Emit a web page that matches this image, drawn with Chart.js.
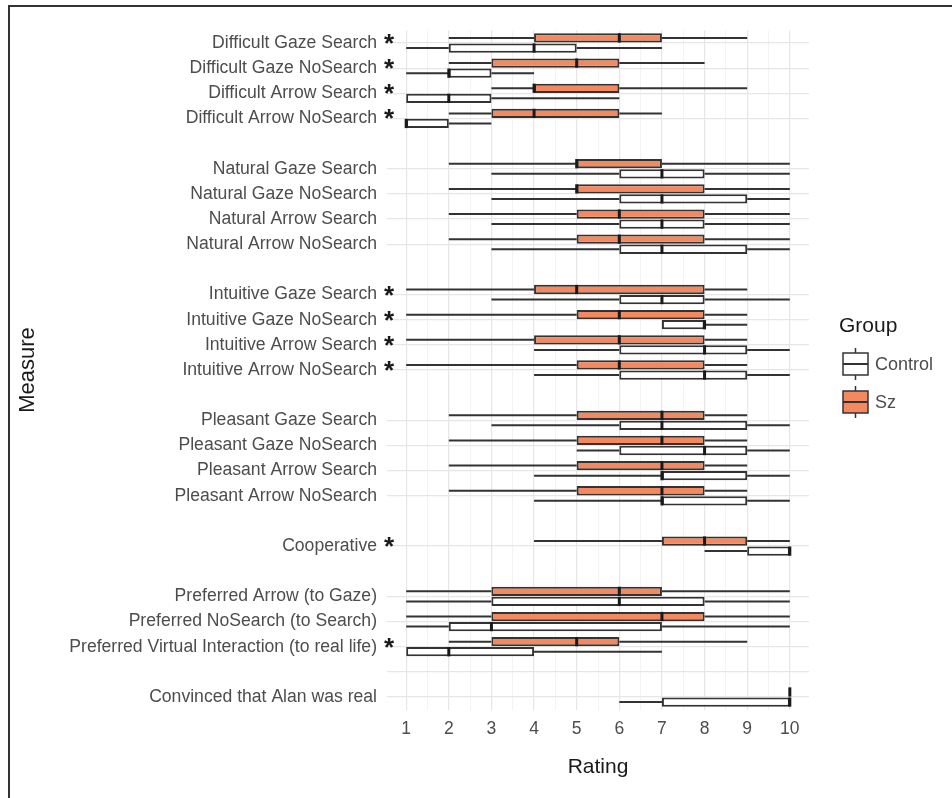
<!DOCTYPE html>
<html>
<head>
<meta charset="utf-8">
<script src="https://cdn.jsdelivr.net/npm/chart.js@4.4.1/dist/chart.umd.min.js"></script>
<style>
  html, body { margin: 0; padding: 0; background: #fff; }
  #wrap { position: relative; width: 952px; height: 798px; }
</style>
</head>
<body>
<div id="wrap"><canvas id="boxChart"></canvas></div>
<script>
// Measures, top to bottom. '' = spacer row without grid line, ' ' = blank row with grid line
const measures = [
    'Difficult Gaze Search', 'Difficult Gaze NoSearch', 'Difficult Arrow Search', 'Difficult Arrow NoSearch',
    '',
    'Natural Gaze Search', 'Natural Gaze NoSearch', 'Natural Arrow Search', 'Natural Arrow NoSearch',
    '',
    'Intuitive Gaze Search', 'Intuitive Gaze NoSearch', 'Intuitive Arrow Search', 'Intuitive Arrow NoSearch',
    '',
    'Pleasant Gaze Search', 'Pleasant Gaze NoSearch', 'Pleasant Arrow Search', 'Pleasant Arrow NoSearch',
    '',
    'Cooperative',
    '',
    'Preferred Arrow (to Gaze)', 'Preferred NoSearch (to Search)', 'Preferred Virtual Interaction (to real life)',
    ' ',
    'Convinced that Alan was real'
];

// Measures with a significant group difference
const starred = [
    'Difficult Gaze Search', 'Difficult Gaze NoSearch', 'Difficult Arrow Search', 'Difficult Arrow NoSearch',
    'Intuitive Gaze Search', 'Intuitive Gaze NoSearch', 'Intuitive Arrow Search', 'Intuitive Arrow NoSearch',
    'Cooperative', 'Preferred Virtual Interaction (to real life)'
];

// [min, q1, median, q3, max] per measure, null for spacer rows
const szStats = [
    [2, 4, 6, 7, 9], [2, 3, 5, 6, 8], [3, 4, 4, 6, 9], [2, 3, 4, 6, 7],
    null,
    [2, 5, 5, 7, 10], [2, 5, 5, 8, 10], [2, 5, 6, 8, 10], [2, 5, 6, 8, 10],
    null,
    [1, 4, 5, 8, 9], [1, 5, 6, 8, 9], [1, 4, 6, 8, 9], [1, 5, 6, 8, 9],
    null,
    [2, 5, 7, 8, 9], [2, 5, 7, 8, 9], [2, 5, 7, 8, 9], [2, 5, 7, 8, 9],
    null,
    [4, 7, 8, 9, 10],
    null,
    [1, 3, 6, 7, 10], [1, 3, 7, 8, 10], [2, 3, 5, 6, 9],
    null,
    [10, 10, 10, 10, 10]
];

const controlStats = [
    [1, 2, 4, 5, 7], [1, 2, 2, 3, 4], [1, 1, 2, 3, 6], [1, 1, 1, 2, 3],
    null,
    [3, 6, 7, 8, 10], [3, 6, 7, 9, 10], [3, 6, 7, 8, 10], [3, 6, 7, 9, 10],
    null,
    [3, 6, 7, 8, 10], [7, 7, 8, 8, 9], [4, 6, 8, 9, 10], [4, 6, 8, 9, 10],
    null,
    [3, 6, 7, 9, 10], [5, 6, 8, 9, 10], [4, 7, 7, 9, 10], [4, 7, 7, 9, 10],
    null,
    [8, 9, 10, 10, 10],
    null,
    [1, 3, 6, 8, 10], [1, 2, 3, 7, 10], [1, 1, 2, 4, 7],
    null,
    [6, 7, 10, 10, 10]
];

const ratingTicks = [1, 2, 3, 4, 5, 6, 7, 8, 9, 10];

const szFill = '#F4895F';
const controlFill = '#FFFFFF';
const lineColor = '#333333';
const textColor = '#4d4d4d';
const fontFamily = "'Liberation Sans', Arial, sans-serif";

const groups = [
    { label: 'Sz', stats: szStats, fill: szFill },
    { label: 'Control', stats: controlStats, fill: controlFill }
];

// Whiskers behind the boxes, medians on top, plus asterisks, legend and frame
const boxplotExtras = {
    id: 'boxplotExtras',
    beforeDatasetsDraw(chart) {
        const { ctx, scales: { x } } = chart;
        ctx.save();
        ctx.strokeStyle = lineColor;
        ctx.lineWidth = 2;
        groups.forEach((g, di) => {
            chart.getDatasetMeta(di).data.forEach((bar, i) => {
                const s = g.stats[i];
                if (!s) return;
                ctx.beginPath();
                ctx.moveTo(x.getPixelForValue(s[0]), bar.y);
                ctx.lineTo(x.getPixelForValue(s[1]), bar.y);
                ctx.moveTo(x.getPixelForValue(s[3]), bar.y);
                ctx.lineTo(x.getPixelForValue(s[4]), bar.y);
                ctx.stroke();
            });
        });
        ctx.restore();
    },
    afterDatasetsDraw(chart) {
        const { ctx, scales: { x } } = chart;
        ctx.save();
        ctx.strokeStyle = '#1a1a1a';
        ctx.lineWidth = 3;
        groups.forEach((g, di) => {
            chart.getDatasetMeta(di).data.forEach((bar, i) => {
                const s = g.stats[i];
                if (!s) return;
                const px = x.getPixelForValue(s[2]);
                ctx.beginPath();
                ctx.moveTo(px, bar.y - bar.height / 2);
                ctx.lineTo(px, bar.y + bar.height / 2);
                ctx.stroke();
            });
        });
        ctx.restore();
    },
    afterDraw(chart) {
        const { ctx, scales: { x, y } } = chart;
        ctx.save();

        // significance asterisks
        ctx.fillStyle = '#1a1a1a';
        ctx.font = 'bold 26px ' + fontFamily;
        ctx.textAlign = 'center';
        ctx.textBaseline = 'alphabetic';
        measures.forEach((m, i) => {
            if (!starred.includes(m)) return;
            ctx.fillText('*', x.getPixelForValue(0.6), y.getPixelForValue(i) + 9);
        });

        // legend
        ctx.fillStyle = '#1a1a1a';
        ctx.font = '21px ' + fontFamily;
        ctx.textAlign = 'left';
        ctx.textBaseline = 'middle';
        ctx.fillText('Group', 839, 326);
        drawKey(ctx, 843, 364, controlFill);
        drawKey(ctx, 843, 402, szFill);
        ctx.font = '18px ' + fontFamily;
        ctx.fillStyle = textColor;
        ctx.fillText('Control', 875, 365);
        ctx.fillText('Sz', 875, 403);

        // figure frame
        ctx.strokeStyle = '#333333';
        ctx.lineWidth = 2;
        ctx.beginPath();
        ctx.moveTo(9, 798);
        ctx.lineTo(9, 6);
        ctx.lineTo(952, 6);
        ctx.stroke();
        ctx.restore();
    }
};

function drawKey(ctx, left, cy, fill) {
    const w = 25, h = 22;
    ctx.save();
    ctx.strokeStyle = lineColor;
    ctx.lineWidth = 1.5;
    ctx.beginPath();
    ctx.moveTo(left + w / 2, cy - 16);
    ctx.lineTo(left + w / 2, cy + 16);
    ctx.stroke();
    ctx.fillStyle = fill;
    ctx.fillRect(left, cy - h / 2, w, h);
    ctx.strokeRect(left, cy - h / 2, w, h);
    ctx.lineWidth = 2;
    ctx.beginPath();
    ctx.moveTo(left, cy);
    ctx.lineTo(left + w, cy);
    ctx.stroke();
    ctx.restore();
}

const datasets = groups.map(g => ({
    label: g.label,
    data: g.stats.map(s => (s ? [s[1], s[3]] : null)),
    backgroundColor: g.fill,
    borderColor: lineColor,
    borderWidth: 2,
    borderSkipped: false,
    categoryPercentage: 0.8,
    barPercentage: 0.92
}));

new Chart(document.getElementById('boxChart'), {
    type: 'bar',
    data: { labels: measures, datasets: datasets },
    plugins: [boxplotExtras],
    options: {
        indexAxis: 'y',
        responsive: true,
        maintainAspectRatio: false,
        animation: false,
        layout: { padding: { left: 8, top: 30.4, right: 143, bottom: 0 } },
        plugins: {
            legend: { display: false },
            tooltip: { enabled: false }
        },
        scales: {
            x: {
                type: 'linear',
                min: 0.55,
                max: 10.45,
                afterBuildTicks: scale => {
                    const ticks = [];
                    ratingTicks.forEach(v => {
                        ticks.push({ value: v });
                        if (v < 10) ticks.push({ value: v + 0.5 });
                    });
                    scale.ticks = ticks;
                },
                afterFit: scale => { scale.height = 88.4; },
                grid: {
                    drawTicks: false,
                    color: c => (Number.isInteger(c.tick.value) ? '#e6e6e6' : '#f0f0f0'),
                    lineWidth: c => (Number.isInteger(c.tick.value) ? 1.2 : 0.8)
                },
                border: { display: false },
                ticks: {
                    autoSkip: false,
                    maxRotation: 0,
                    padding: 9,
                    color: textColor,
                    font: { family: fontFamily, size: 17.5 },
                    callback: v => (Number.isInteger(v) ? v : '')
                },
                title: {
                    display: true,
                    text: 'Rating',
                    color: '#1a1a1a',
                    font: { family: fontFamily, size: 21 },
                    padding: { top: 0, bottom: 18 }
                }
            },
            y: {
                afterFit: scale => { scale.width = 379; },
                grid: {
                    offset: false,
                    drawTicks: false,
                    color: c => (measures[c.index] === '' ? 'rgba(0,0,0,0)' : '#e6e6e6'),
                    lineWidth: 1.2
                },
                border: { display: false },
                ticks: {
                    autoSkip: false,
                    padding: 10,
                    color: textColor,
                    font: { family: fontFamily, size: 17.6 }
                },
                title: {
                    display: true,
                    text: 'Measure',
                    color: '#1a1a1a',
                    font: { family: fontFamily, size: 22 },
                    padding: { top: 7, bottom: 0 }
                }
            }
        }
    }
});
</script>
</body>
</html>
